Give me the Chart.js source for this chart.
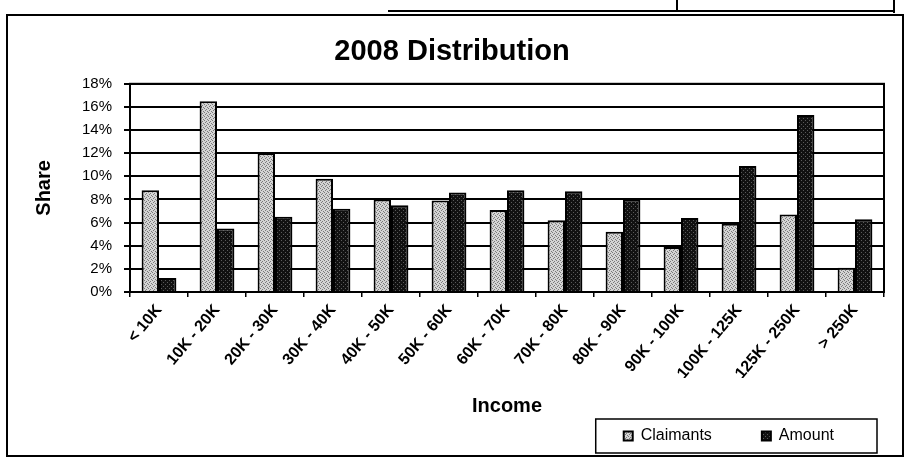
<!DOCTYPE html>
<html>
<head>
<meta charset="utf-8">
<script src="https://cdn.jsdelivr.net/npm/chart.js@4"></script>
<style>
  html, body { margin: 0; padding: 0; background: #fff; }
  #wrap { width: 909px; height: 464px; }
</style>
</head>
<body>
<div id="wrap"><canvas id="c" width="909" height="464"></canvas></div>
<script>
// ---- data ----
const categories = ['< 10K', '10K - 20K', '20K - 30K', '30K - 40K', '40K - 50K', '50K - 60K',
  '60K - 70K', '70K - 80K', '80K - 90K', '90K - 100K', '100K - 125K', '125K - 250K', '> 250K'];
const claimants = [8.8, 16.5, 12.0, 9.8, 8.0, 7.9, 7.1, 6.2, 5.2, 3.9, 5.9, 6.7, 2.1];
const amount    = [1.2, 5.5, 6.5, 7.2, 7.5, 8.6, 8.8, 8.7, 8.0, 6.4, 10.9, 15.3, 6.3];
const yTickValues = [0, 2, 4, 6, 8, 10, 12, 14, 16, 18];
const chartTitle = '2008 Distribution';
const xTitle = 'Income';
const yTitle = 'Share';
const seriesNames = ['Claimants', 'Amount'];

// ---- textures (styling only) ----
function makePattern(base, dot, cells) {
  const p = document.createElement('canvas');
  p.width = 4; p.height = 4;
  const g = p.getContext('2d');
  g.fillStyle = base; g.fillRect(0, 0, 4, 4);
  g.fillStyle = dot;
  cells.forEach(([x, y]) => g.fillRect(x, y, 1, 1));
  return g.createPattern(p, 'repeat');
}
const ctx = document.getElementById('c').getContext('2d');
const lightFill = makePattern('#d4d4d4', '#7a7a7a', [[0, 0], [2, 1], [1, 2], [3, 3]]);
const darkFill  = makePattern('#111111', '#5a5a5a', [[1, 0], [3, 2]]);

const FONT = "'Liberation Sans', Arial, sans-serif";

const framePlugin = {
  id: 'frame',
  beforeDraw(chart) {
    const c = chart.ctx;
    c.save();
    c.fillStyle = '#fff';
    c.fillRect(0, 0, chart.width, chart.height);
    c.restore();
  },
  afterDraw(chart) {
    const c = chart.ctx;
    const a = chart.chartArea;
    c.save();
    c.strokeStyle = '#000';
    c.lineWidth = 2;
    c.strokeRect(a.left, a.top, a.right - a.left, a.bottom - a.top);
    // outer frame of the scanned figure
    c.lineWidth = 2;
    c.strokeRect(7, 15, 896, 441);
    // fragment of a table above the figure
    c.beginPath();
    c.moveTo(388, 11); c.lineTo(894, 11);
    c.moveTo(677, 0); c.lineTo(677, 11);
    c.moveTo(894, 0); c.lineTo(894, 13);
    c.stroke();
    // legend frame
    const hb = chart.legend && chart.legend.legendHitBoxes;
    if (hb && hb.length) {
      const last = hb[hb.length - 1];
      const l = hb[0].left - 28;
      const r = last.left + last.width + 43;
      const cy = hb[0].top + hb[0].height / 2;
      c.lineWidth = 1.5;
      c.strokeRect(l, cy - 17, r - l, 34);
    }
    c.restore();
  }
};

new Chart(ctx, {
  type: 'bar',
  data: {
    labels: categories,
    datasets: [
      { label: seriesNames[0], data: claimants, backgroundColor: lightFill,
        borderColor: '#000', borderWidth: 2 },
      { label: seriesNames[1], data: amount, backgroundColor: darkFill,
        borderColor: '#000', borderWidth: 2 }
    ]
  },
  options: {
    responsive: false,
    animation: false,
    devicePixelRatio: 1,
    layout: { padding: { left: 20, right: 25, top: 10, bottom: 10 } },
    datasets: { bar: { barPercentage: 1.0, categoryPercentage: 0.6 } },
    plugins: {
      title: {
        display: true, text: chartTitle, color: '#000',
        font: { family: FONT, size: 29, weight: 'bold' },
        padding: { top: 25, bottom: 14 }
      },
      legend: {
        position: 'bottom', align: 'end',
        labels: {
          color: '#000', boxWidth: 9, boxHeight: 9, padding: 50,
          font: { family: FONT, size: 16 }
        }
      },
      tooltip: { enabled: false }
    },
    scales: {
      x: {
        grid: { display: true, drawOnChartArea: false, drawTicks: true, tickLength: 5,
                color: '#000', lineWidth: 1.5, offset: true },
        border: { display: true, color: '#000', width: 2 },
        ticks: { color: '#000', maxRotation: 50, minRotation: 50, autoSkip: false, padding: 4,
                 font: { family: FONT, size: 16, weight: 'bold' } },
        title: { display: true, text: xTitle, color: '#000',
                 font: { family: FONT, size: 20, weight: 'bold' },
                 padding: { top: 0, bottom: -40 } },
        afterFit(scale) { scale.height = 86; }
      },
      y: {
        min: 0, max: 18,
        afterBuildTicks(scale) { scale.ticks = yTickValues.map(v => ({ value: v })); },
        grid: { color: '#000', lineWidth: 2, tickLength: 6, drawTicks: true },
        border: { display: true, color: '#000', width: 2 },
        ticks: { color: '#000', padding: 12, font: { family: FONT, size: 15 },
                 callback: v => v + '%' },
        title: { display: true, text: yTitle, color: '#000',
                 font: { family: FONT, size: 20, weight: 'bold' },
                 padding: { top: 12, bottom: 0 } },
        afterFit(scale) { scale.width = 110; }
      }
    }
  },
  plugins: [framePlugin]
});
</script>
</body>
</html>
